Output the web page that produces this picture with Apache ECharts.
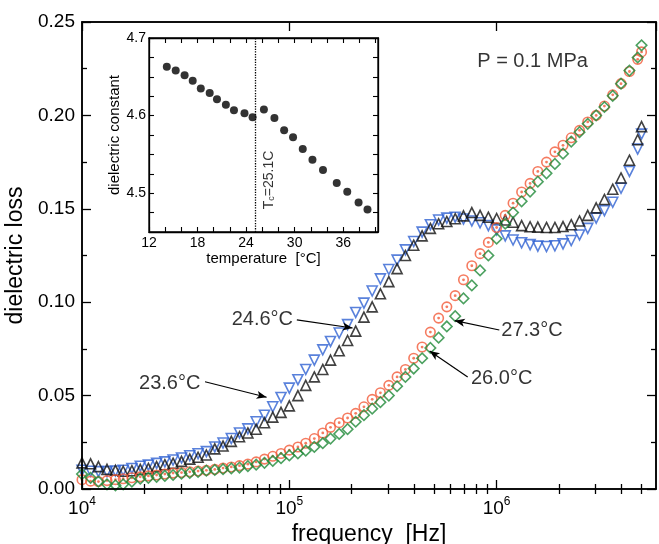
<!DOCTYPE html>
<html><head><meta charset="utf-8">
<script src="https://cdn.jsdelivr.net/npm/echarts@6/dist/echarts.min.js"></script>
<style>html,body{margin:0;padding:0;background:#fff}.layer{position:absolute;left:0;top:0;width:659px;height:544px}</style>
</head><body>
<div id="lA" class="layer" style="z-index:1"></div>
<div id="lF" class="layer" style="z-index:2"></div>
<div id="lBX" class="layer" style="z-index:3"></div>
<div id="lBY" class="layer" style="z-index:4"></div>
<div id="lBM" class="layer" style="z-index:5"></div>
<div id="lC1" class="layer" style="z-index:6"></div>
<div id="lC2" class="layer" style="z-index:7"></div>
<script>
// ---------- data ----------
const freq = [
 1.00e4,1.10e4,1.20e4,1.32e4,1.45e4,1.58e4,1.74e4,1.91e4,2.09e4,2.29e4,2.51e4,2.75e4,3.02e4,3.31e4,3.63e4,3.98e4,4.37e4,4.79e4,5.25e4,5.75e4,6.31e4,6.92e4,7.59e4,8.32e4,9.12e4,
 1.00e5,1.10e5,1.20e5,1.32e5,1.45e5,1.58e5,1.74e5,1.91e5,2.09e5,2.29e5,2.51e5,2.75e5,3.02e5,3.31e5,3.63e5,3.98e5,4.37e5,4.79e5,5.25e5,5.75e5,6.31e5,6.92e5,7.59e5,8.32e5,9.12e5,
 1.00e6,1.10e6,1.20e6,1.32e6,1.45e6,1.58e6,1.74e6,1.91e6,2.09e6,2.29e6,2.51e6,2.75e6,3.02e6,3.31e6,3.63e6,3.98e6,4.37e6,4.79e6,5.00e6];
const loss246 = [ // black up-triangles
 0.0140,0.0135,0.0120,0.0105,0.0100,0.0095,0.0098,0.0105,0.0110,0.0120,0.0130,0.0138,0.0148,0.0160,0.0170,0.0182,0.0215,0.0230,0.0255,0.0280,0.0300,0.0320,0.0355,0.0385,0.0410,
 0.0445,0.0500,0.0555,0.0600,0.0640,0.0690,0.0740,0.0795,0.0845,0.0920,0.0975,0.1045,0.1110,0.1180,0.1250,0.1305,0.1355,0.1395,0.1420,0.1432,0.1447,0.1462,0.1480,0.1465,0.1455,
 0.1448,0.1440,0.1428,0.1410,0.1404,0.1402,0.1400,0.1400,0.1405,0.1415,0.1435,0.1465,0.1505,0.1550,0.1605,0.1665,0.1760,0.1870,0.1940];
const loss236 = [ // blue down-triangles
 0.0100,0.0095,0.0093,0.0093,0.0096,0.0100,0.0110,0.0122,0.0128,0.0137,0.0145,0.0155,0.0166,0.0178,0.0189,0.0200,0.0225,0.0246,0.0270,0.0300,0.0322,0.0360,0.0395,0.0440,0.0490,
 0.0540,0.0585,0.0640,0.0690,0.0745,0.0790,0.0835,0.0880,0.0945,0.0995,0.1060,0.1125,0.1175,0.1225,0.1280,0.1325,0.1375,0.1415,0.1440,0.1450,0.1455,0.1445,0.1435,0.1425,0.1410,
 0.1387,0.1355,0.1333,0.1318,0.1308,0.1300,0.1298,0.1302,0.1312,0.1330,0.1360,0.1395,0.1450,0.1490,0.1535,0.1610,0.1700,0.1820,0.1900];
const loss260 = [ // red circles
 0.0050,0.0042,0.0040,0.0045,0.0050,0.0055,0.0060,0.0065,0.0070,0.0075,0.0080,0.0085,0.0088,0.0092,0.0096,0.0100,0.0105,0.0112,0.0118,0.0125,0.0133,0.0145,0.0160,0.0175,0.0190,
 0.0208,0.0225,0.0245,0.0270,0.0300,0.0330,0.0355,0.0380,0.0405,0.0440,0.0480,0.0515,0.0555,0.0600,0.0640,0.0700,0.0760,0.0840,0.0915,0.0975,0.1035,0.1120,0.1195,0.1260,0.1320,
 0.1400,0.1465,0.1530,0.1590,0.1636,0.1700,0.1750,0.1805,0.1840,0.1880,0.1920,0.1965,0.2000,0.2050,0.2110,0.2170,0.2235,0.2300,0.2340];
const loss273 = [ // green diamonds
 0.0080,0.0060,0.0040,0.0025,0.0020,0.0025,0.0040,0.0055,0.0060,0.0065,0.0070,0.0075,0.0082,0.0086,0.0092,0.0098,0.0102,0.0106,0.0110,0.0115,0.0122,0.0130,0.0140,0.0150,0.0165,
 0.0180,0.0190,0.0205,0.0225,0.0245,0.0270,0.0295,0.0320,0.0360,0.0395,0.0430,0.0465,0.0500,0.0550,0.0600,0.0645,0.0700,0.0755,0.0810,0.0870,0.0925,0.1020,0.1090,0.1170,0.1250,
 0.1340,0.1420,0.1480,0.1540,0.1592,0.1645,0.1690,0.1740,0.1795,0.1860,0.1910,0.1955,0.2000,0.2045,0.2105,0.2170,0.2240,0.2310,0.2375];
const insetTemp = [14.2,15.3,16.4,17.4,18.4,19.5,20.4,21.5,22.5,23.8,24.8,26.2,27.5,28.7,29.8,31.0,32.2,33.5,35.2,36.5,37.9,39.0];
const insetEps  = [4.663,4.658,4.652,4.645,4.635,4.629,4.621,4.614,4.607,4.603,4.598,4.608,4.597,4.581,4.572,4.557,4.543,4.530,4.513,4.502,4.488,4.479];
const Tc = 25.1;
// tick values / labels
const decadeTicks = [1e4,1e5,1e6];
const minorFreqTicks = [2e4,3e4,4e4,5e4,6e4,7e4,8e4,9e4,2e5,3e5,4e5,5e5,6e5,7e5,8e5,9e5,2e6,3e6,4e6,5e6];
const lossMinorTicks = [0.025,0.075,0.125,0.175,0.225];
const insetXLabels = [12,18,24,30,36];
const insetXTicks = [12,14,16,18,20,22,24,26,28,30,32,34,36,38,40];
const insetYLabels = [4.5,4.6,4.7];
const insetYTicks = [4.475,4.5,4.525,4.55,4.575,4.6,4.625,4.65,4.675,4.7];
// annotations
const labelTexts = ['23.6°C','24.6°C','27.3°C','26.0°C','P = 0.1 MPa'];
const labelPos = [[2.65e4,0.0566],[7.41e4,0.0905],[1.48e6,0.0851],[1.057e6,0.0592],[1.49e6,0.2286]];
const arrows = [ // [fromFreq, fromVal, toFreq, toVal]
 [3.92e4,0.0574,7.77e4,0.0491],
 [1.087e5,0.0905,2.02e5,0.0862],
 [1.03e6,0.0851,6.28e5,0.0901],
 [7.25e5,0.0600,4.75e5,0.0739]];

// ---------- common ----------
const FONT = '"Liberation Sans", Arial, Helvetica, sans-serif';
const BLACK = '#000';
const xMin = 1e4, xMax = 5.87e6;
const MAIN = {left:82, top:22, width:574, height:467};
const INSET = {left:149, top:38, width:229, height:194};
const gridOf = (r, extra) => Object.assign({show:false, outerBoundsMode:'none', containLabel:false}, r, extra || {});
const hiddenLogX = {type:'log', logBase:10, min:xMin, max:xMax, show:false};
const hiddenLossY = {type:'value', min:0, max:0.25, show:false};
const tickLine = {color:BLACK, width:1.3};

// ---------- layer A: main data + annotations ----------
const pairs = vals => freq.map((f,i) => [f, vals[i]]);
const openStyle = c => ({color:'transparent', borderColor:c, borderWidth:1.6});
const optA = {
  animation:false, backgroundColor:'#fff',
  grid:[gridOf(MAIN)], xAxis:[hiddenLogX], yAxis:[hiddenLossY],
  series:[
    {type:'scatter', name:'23.6', data:pairs(loss236), symbol:'triangle', symbolRotate:180, symbolSize:10, itemStyle:openStyle('#2f62d2')},
    {type:'scatter', name:'24.6', data:pairs(loss246), symbol:'triangle', symbolSize:10, itemStyle:openStyle('#111')},
    {type:'scatter', name:'26.0', data:pairs(loss260), symbol:'circle', symbolSize:9.5, itemStyle:openStyle('#f25a38')},
    {type:'scatter', name:'26.0c', data:pairs(loss260), symbol:'circle', symbolSize:2.8, itemStyle:{color:'#f25a38'}},
    {type:'scatter', name:'27.3', data:pairs(loss273), symbol:'rect', symbolRotate:45, symbolSize:7.4, itemStyle:openStyle('#1f8a38')},
    {type:'scatter', name:'notes', z:5,
     data: labelTexts.map((t,i) => ({name:t, value:labelPos[i]})),
     symbolSize:1, itemStyle:{color:'transparent'},
     label:{show:true, position:'inside', formatter:'{b}', fontSize:20, fontFamily:FONT, color:BLACK},
     markLine:{silent:true, symbol:['none','arrow'], symbolSize:[6,10], animation:false,
       lineStyle:{color:BLACK, width:1.2, type:'solid'}, label:{show:false},
       data: arrows.map(a => [{coord:[a[0],a[1]]},{coord:[a[2],a[3]]}])}
    }
  ]
};

// ---------- layer F: main frame (grid border) ----------
const optF = {
  animation:false, backgroundColor:'transparent',
  grid:[gridOf(MAIN, {show:true, backgroundColor:'transparent', borderColor:BLACK, borderWidth:1.5})],
  xAxis:[hiddenLogX], yAxis:[hiddenLossY], series:[]
};

// ---------- layer BX: log x axes (major ticks, labels, title) ----------
function mainLogX(pos, withLabels) {
  const ax = {type:'log', logBase:10, position:pos, min:xMin, max:xMax,
    axisLine:{show:true, onZero:false, lineStyle:{color:BLACK, width:1.5}},
    axisTick:{show:true, inside:true, length:9, lineStyle:tickLine},
    axisLabel:{show:false}, splitLine:{show:false}, minorTick:{show:false}, minorSplitLine:{show:false}};
  if (withLabels) {
    ax.axisLabel = {show:true, showMaxLabel:false, margin:7, color:BLACK,
      formatter: v => '{b|10}{s|' + Math.round(Math.log10(v)) + '}',
      rich:{b:{fontSize:19, fontFamily:FONT, color:BLACK, lineHeight:22, verticalAlign:'bottom'},
            s:{fontSize:12, fontFamily:FONT, color:BLACK, lineHeight:12, verticalAlign:'top'}}};
    ax.name = 'frequency  [Hz]'; ax.nameLocation = 'middle'; ax.nameGap = 28;
    ax.nameTextStyle = {fontSize:23, fontFamily:FONT, color:BLACK};
  }
  return ax;
}
const optBX = {
  animation:false, backgroundColor:'transparent',
  grid:[gridOf(MAIN)], xAxis:[mainLogX('bottom', true), mainLogX('top', false)], yAxis:[hiddenLossY], series:[]
};

// ---------- layer BY: y axes (major ticks, labels, title) ----------
function mainY(pos, withLabels) {
  const ax = {type:'value', position:pos, min:0, max:0.25, interval:0.05,
    axisLine:{show:true, onZero:false, lineStyle:{color:BLACK, width:1.5}},
    axisTick:{show:true, inside:true, length:9, lineStyle:tickLine},
    minorTick:{show:false}, splitLine:{show:false}, minorSplitLine:{show:false}, axisLabel:{show:false}};
  if (withLabels) {
    ax.axisLabel = {show:true, margin:7, fontSize:19, fontFamily:FONT, color:BLACK, formatter: v => v.toFixed(2)};
    ax.name = 'dielectric loss'; ax.nameLocation = 'middle'; ax.nameGap = 45;
    ax.nameTextStyle = {fontSize:23, fontFamily:FONT, color:BLACK};
  }
  return ax;
}
const optBY = {
  animation:false, backgroundColor:'transparent',
  grid:[gridOf(MAIN)], xAxis:[{type:'value', min:0, max:1, show:false}], yAxis:[mainY('left', true), mainY('right', false)], series:[]
};

// ---------- layer BM: minor ticks (log10-space overlay for x, value for y) ----------
const minorXAxis = pos => ({type:'value', position:pos, min:Math.log10(xMin), max:Math.log10(xMax),
  axisLine:{show:false}, axisLabel:{show:false}, splitLine:{show:false}, minorTick:{show:false},
  axisTick:{show:true, inside:true, length:5, customValues:minorFreqTicks.map(v => Math.log10(v)), lineStyle:tickLine}});
const minorYAxis = pos => ({type:'value', position:pos, min:0, max:0.25,
  axisLine:{show:false}, axisLabel:{show:false}, splitLine:{show:false}, minorTick:{show:false},
  axisTick:{show:true, inside:true, length:5, customValues:lossMinorTicks, lineStyle:tickLine}});
const optBM = {
  animation:false, backgroundColor:'transparent',
  grid:[gridOf(MAIN)], xAxis:[minorXAxis('bottom'), minorXAxis('top')], yAxis:[minorYAxis('left'), minorYAxis('right')], series:[]
};

// ---------- layer C1: inset background + data ----------
const optC1 = {
  animation:false, backgroundColor:'transparent',
  grid:[gridOf(INSET, {show:true, backgroundColor:'#fff', borderColor:BLACK, borderWidth:1.3})],
  xAxis:[{type:'value', min:12, max:40.3, show:false}],
  yAxis:[{type:'value', min:4.45, max:4.7, show:false}],
  series:[
    {type:'scatter', name:'inset', data: insetTemp.map((t,i) => [t, insetEps[i]]),
     symbol:'circle', symbolSize:8, itemStyle:{color:BLACK},
     markLine:{silent:true, symbol:['none','none'], animation:false,
       lineStyle:{color:BLACK, width:1.3, type:'dotted'}, label:{show:false}, data:[{xAxis:Tc}]}},
    {type:'scatter', name:'tcLabel', data:[{value:[26.7, 4.517]}], symbolSize:1, itemStyle:{color:'transparent'},
     label:{show:true, position:'inside', rotate:90,
       formatter:'{t|T}{c|c}{t|=' + Tc.toFixed(1) + 'C}',
       rich:{t:{fontSize:14, fontFamily:FONT, color:BLACK, lineHeight:16, verticalAlign:'bottom'},
             c:{fontSize:9, fontFamily:FONT, color:BLACK, lineHeight:9, verticalAlign:'bottom'}}}}
  ]
};

// ---------- layer C2: inset axes ----------
function insetX(pos, withLabels) {
  const ax = {type:'value', position:pos, min:12, max:40.3,
    axisLine:{show:true, onZero:false, lineStyle:{color:BLACK, width:1.3}},
    axisTick:{show:true, inside:true, length:5, customValues:insetXTicks, lineStyle:{color:BLACK, width:1.1}},
    splitLine:{show:false}, minorTick:{show:false}, axisLabel:{show:false}};
  if (withLabels) {
    ax.axisLabel = {show:true, customValues:insetXLabels, margin:4, fontSize:14, fontFamily:FONT, color:BLACK};
    ax.name = 'temperature  [°C]'; ax.nameLocation = 'middle'; ax.nameGap = 19;
    ax.nameTextStyle = {fontSize:15, fontFamily:FONT, color:BLACK};
  }
  return ax;
}
function insetY(pos, withLabels) {
  const ax = {type:'value', position:pos, min:4.45, max:4.7,
    axisLine:{show:true, onZero:false, lineStyle:{color:BLACK, width:1.3}},
    axisTick:{show:true, inside:true, length:5, customValues:insetYTicks, lineStyle:{color:BLACK, width:1.1}},
    splitLine:{show:false}, minorTick:{show:false}, axisLabel:{show:false}};
  if (withLabels) {
    ax.axisLabel = {show:true, customValues:insetYLabels, margin:3, fontSize:14, fontFamily:FONT, color:BLACK, formatter: v => v.toFixed(1)};
    ax.name = 'dielectric constant'; ax.nameLocation = 'middle'; ax.nameGap = 25;
    ax.nameTextStyle = {fontSize:15, fontFamily:FONT, color:BLACK};
  }
  return ax;
}
const optC2 = {
  animation:false, backgroundColor:'transparent',
  grid:[gridOf(INSET)],
  xAxis:[insetX('bottom', true), insetX('top', false)],
  yAxis:[insetY('left', true), insetY('right', false)],
  series:[]
};

[['lA', optA], ['lF', optF], ['lBX', optBX], ['lBY', optBY], ['lBM', optBM], ['lC1', optC1], ['lC2', optC2]].forEach(([id, opt]) => {
  try {
    const ch = echarts.init(document.getElementById(id), null, {renderer:'canvas'});
    ch.setOption(opt);
  } catch (e) { /* keep other layers */ }
});
</script>
</body></html>
